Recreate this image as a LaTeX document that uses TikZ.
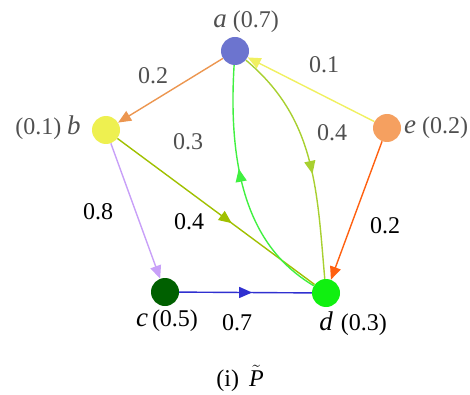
\documentclass[tikz,border=0pt]{standalone}
\usepackage{fontspec}
\setmainfont{Liberation Serif}
\usetikzlibrary{arrows.meta,decorations.markings}
\definecolor{ca}{HTML}{6C74CF}
\definecolor{cb}{HTML}{EEF050}
\definecolor{ce}{HTML}{F5A060}
\definecolor{cc}{HTML}{006000}
\definecolor{cd}{HTML}{10F010}
\definecolor{eab}{HTML}{EC9650}
\definecolor{eea}{HTML}{F0F060}
\definecolor{ebc}{HTML}{C8A0F8}
\definecolor{ebd}{HTML}{A0C000}
\definecolor{eda}{HTML}{40F040}
\definecolor{ead}{HTML}{A8D030}
\definecolor{eed}{HTML}{FF6010}
\definecolor{ecd}{HTML}{3030D0}
\definecolor{labgray}{HTML}{505050}
\begin{document}
\begin{tikzpicture}[x=1pt,y=1pt,
  vertex/.style={circle,minimum size=28pt,inner sep=0pt},
  conn/.style={line width=1.4pt},
  tipped/.style={conn,-{Triangle[length=13pt,width=11pt]}},
  midarrow/.style={conn,postaction=decorate,decoration={markings,mark=at position #1 with {\arrow{Triangle[length=13pt,width=11pt]}}}},
  lab/.style={font=\fontsize{24}{28}\selectfont,inner sep=0pt},
  glab/.style={lab,text=labgray}]
\useasboundingbox (0,0) rectangle (470,-395);
% vertices
\node[vertex,fill=ca] (a) at (235,-51) {};
\node[vertex,fill=cb] (b) at (106,-130) {};
\node[vertex,fill=ce] (e) at (387,-128) {};
\node[vertex,fill=cc] (c) at (165,-292) {};
\node[vertex,fill=cd] (d) at (326,-293) {};
% vertex labels
\node[glab] (la) at (246,-22) {{\fontsize{27}{28}\selectfont\itshape a} (0.7)};
\node[glab] (lb) at (48,-128) {(0.1) {\fontsize{27}{28}\selectfont\itshape b}};
\node[glab] (le) at (436,-128) {{\fontsize{27}{28}\selectfont\itshape e} (0.2)};
\node[lab] (lc) at (167,-321) {{\fontsize{27}{28}\selectfont\itshape c}\,(0.5)};
\node[lab] (ld) at (353,-324) {{\fontsize{27}{28}\selectfont\itshape d}\,\,(0.3)};
\node[lab] (cap) at (240,-378) {(i)\, $\tilde{\mbox{\textit{P}}}$};
% edges
\draw[tipped,eab] (a) -- (b);
\draw[tipped,eea] (e) -- (a);
\draw[tipped,ebc] (b) -- (c);
\draw[midarrow=0.58,ebd] (b) -- (d);
\draw[midarrow=0.55,ecd] (c) -- (d);
\draw[tipped,eed] (e) -- (d);
\draw[midarrow=0.56,ead] (a) to[out=-40,in=95] (d);
\draw[midarrow=0.58,eda] (d) .. controls (262,-255) and (226,-195) .. (a);
% edge labels
\node[glab] (w1) at (153,-76) {0.2};
\node[glab] (w2) at (324,-65) {0.1};
\node[glab] (w3) at (188,-142) {0.3};
\node[glab] (w4) at (332,-133) {0.4};
\node[lab] (w5) at (98,-212) {0.8};
\node[lab] (w6) at (189,-222) {0.4};
\node[lab] (w7) at (385,-226) {0.2};
\node[lab] (w8) at (237,-323) {0.7};
\end{tikzpicture}
\end{document}
